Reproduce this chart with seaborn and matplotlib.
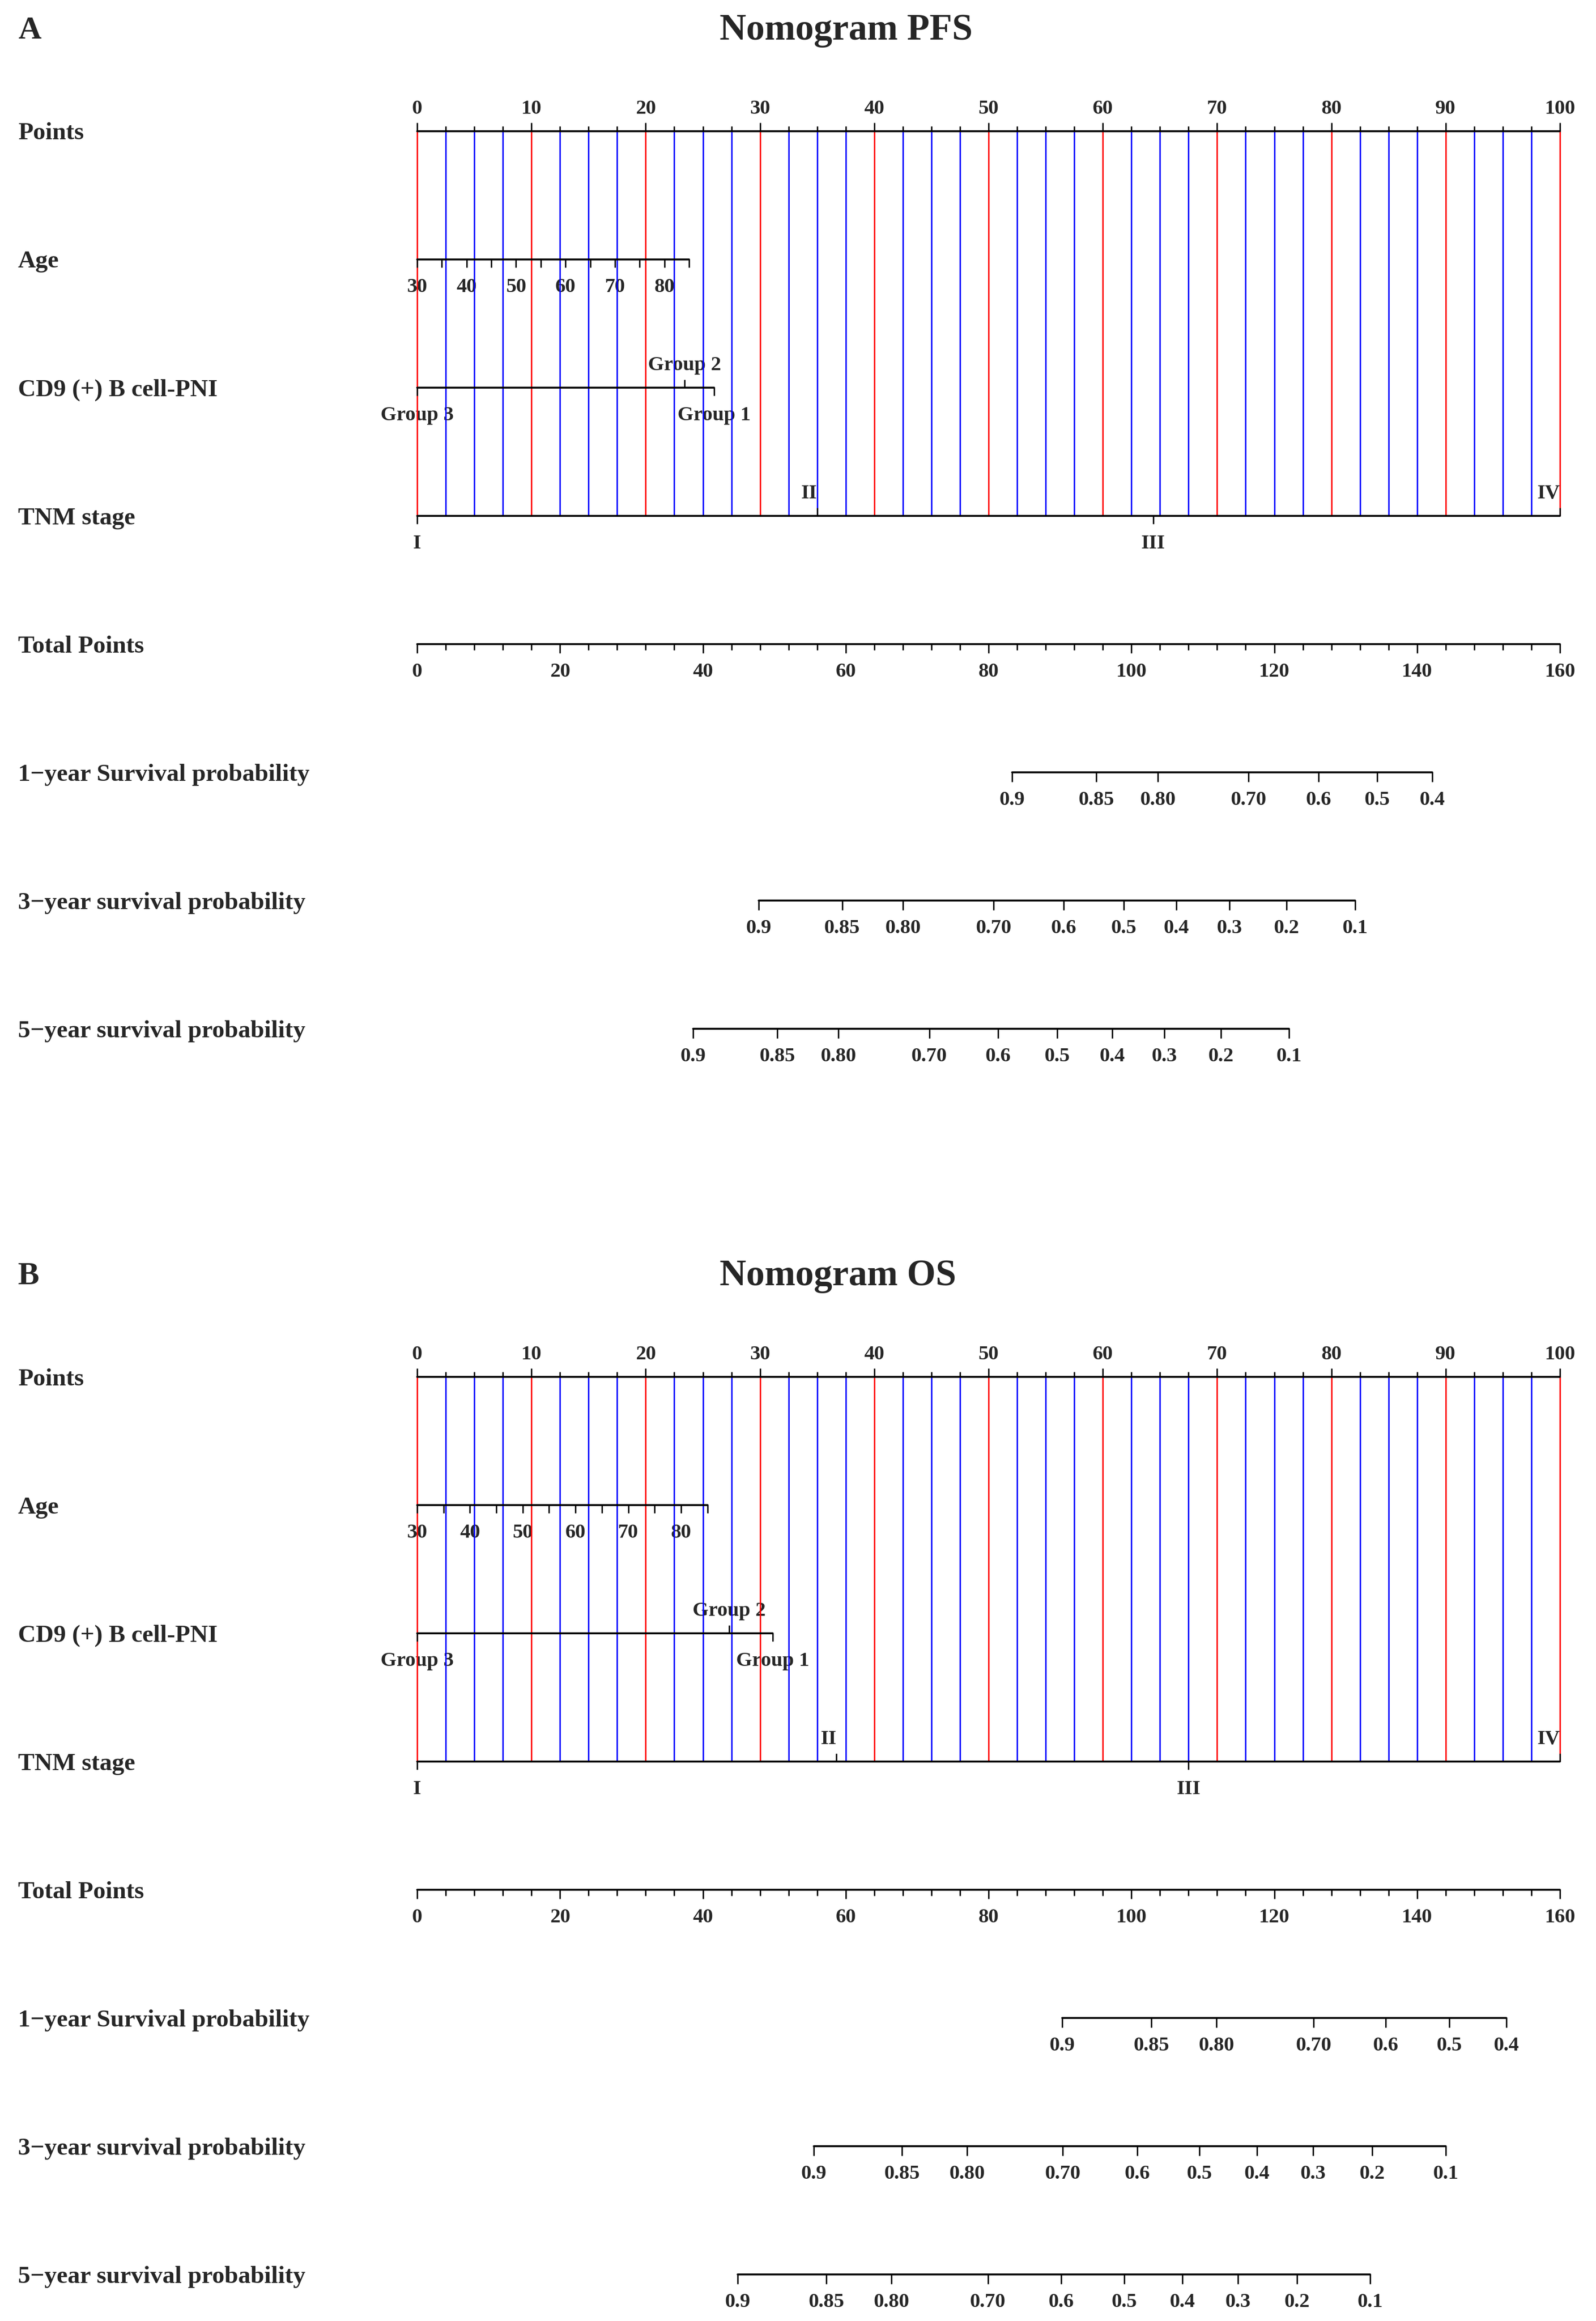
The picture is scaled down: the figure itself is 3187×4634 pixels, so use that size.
import numpy as np
import pandas as pd
import seaborn as sns
import matplotlib.pyplot as plt
import matplotlib.transforms as mtransforms

# ---- values ----
row_names = ["Points", "Age", "CD9 (+) B cell-PNI", "TNM stage", "Total Points",
             "1\u2212year Survival probability", "3\u2212year survival probability",
             "5\u2212year survival probability"]

point_labels = [0, 10, 20, 30, 40, 50, 60, 70, 80, 90, 100]
total_labels = [0, 20, 40, 60, 80, 100, 120, 140, 160]
age_ticks = [30, 35, 40, 45, 50, 55, 60, 65, 70, 75, 80, 85]
age_labels = [30, 40, 50, 60, 70, 80]

pni_groups = ["Group 3", "Group 2", "Group 1"]
pni_sides = ["below", "above", "below"]
tnm_stages = ["I", "II", "III", "IV"]
tnm_sides = ["below", "above", "below", "above"]
tnm_align = ["center", "right", "center", "right"]

surv_1y = ["0.9", "0.85", "0.80", "0.70", "0.6", "0.5", "0.4"]
surv_35y = ["0.9", "0.85", "0.80", "0.70", "0.6", "0.5", "0.4", "0.3", "0.2", "0.1"]

# PFS
pfs_age85 = 23.8                      # points given to age 85 (age 30 -> 0)
pfs_pni = [0, 23.4, 26.0]
pfs_tnm = [0, 35.0, 64.4, 100]
pfs_1y = [83.3, 95.1, 103.7, 116.4, 126.2, 134.4, 142.1]            # total points
pfs_3y = [47.8, 59.5, 68.0, 80.7, 90.5, 98.9, 106.3, 113.7, 121.7, 131.3]
pfs_5y = [38.6, 50.4, 59.0, 71.7, 81.3, 89.6, 97.3, 104.6, 112.5, 122.1]

# OS
os_age85 = 25.4
os_pni = [0, 27.3, 31.1]
os_tnm = [0, 36.7, 67.5, 100]
os_1y = [90.3, 102.8, 111.9, 125.5, 135.6, 144.5, 152.5]
os_3y = [55.5, 67.9, 77.0, 90.4, 100.8, 109.5, 117.6, 125.4, 133.7, 144.0]
os_5y = [44.9, 57.3, 66.4, 79.9, 90.2, 99.0, 107.1, 114.9, 123.2, 133.4]

# ---- layout (pixels) ----
W, H = 3187, 4634
X0, X1 = 833, 3115          # left / right end of the point scales
ROW = 256                   # distance between rows
YTOP, YBOT = -0.9, 7.3
AX_LW, TK_LW, VL_LW = 2.7, 2.0, 2.0
LAB_FS, TICK_FS = 35.5, 29.5

sns.set_theme(style="white")
plt.rcParams["font.family"] = ["Liberation Serif", "DejaVu Serif"]
plt.rcParams["font.weight"] = "bold"

fig = plt.figure(figsize=(W / 100, H / 100), dpi=100)


def scale(fig, a, row, xs, labels, sides, tick_px, align=None, line=None):
    lo, hi = line if line else (min(xs), max(xs))
    sns.lineplot(x=[lo, hi], y=[row, row], ax=a, color="black", lw=AX_LW,
                 zorder=3, clip_on=False)
    for i, (x, lab) in enumerate(zip(xs, labels)):
        side = sides[i] if isinstance(sides, list) else sides
        L = tick_px[i] if isinstance(tick_px, list) else tick_px
        d = -L / ROW if side == "above" else L / ROW
        a.plot([x, x], [row, row + d], color="black", lw=TK_LW, zorder=3,
               clip_on=False, solid_capstyle="butt")
        if lab is None:
            continue
        off = 35 if side == "above" else -65
        tr = mtransforms.offset_copy(a.transData, fig=fig, y=off, units="dots")
        ha = align[i] if align else "center"
        a.text(x, row, str(lab), transform=tr, ha=ha, va="baseline",
               fontsize=TICK_FS, fontweight="bold", zorder=1)


def nomogram(fig, row0_px, letter, title, age85, pni, tnm, s1, s3, s5):
    top = row0_px + YTOP * ROW
    bot = row0_px + YBOT * ROW
    ax = fig.add_axes([X0 / W, 1 - bot / H, (X1 - X0) / W, (bot - top) / H])
    ax.set_xlim(0, 100)
    ax.set_ylim(YBOT, YTOP)
    ax.axis("off")
    tx = ax.twiny()
    tx.set_xlim(0, 160)
    tx.set_ylim(YBOT, YTOP)
    tx.axis("off")

    # reference lines every 2.5 points, red on the tens
    grid = np.arange(0, 100.01, 2.5)
    cols = ["red" if g % 10 == 0 else "blue" for g in grid]
    ax.vlines(grid, 0, 3, colors=cols, lw=VL_LW, zorder=2, clip_on=False)

    # Points
    minor = np.arange(0, 100.01, 2.5)
    scale(fig, ax, 0, list(minor), [int(m) if m % 10 == 0 else None for m in minor],
          "above", [17 if m % 10 == 0 else 10 for m in minor])
    # Age
    age_x = [(a - 30) / 55 * age85 for a in age_ticks]
    scale(fig, ax, 1, age_x, [a if a in age_labels else None for a in age_ticks],
          "below", 16)
    # CD9 (+) B cell-PNI
    scale(fig, ax, 2, pni, pni_groups, pni_sides, 16)
    # TNM stage
    scale(fig, ax, 3, tnm, tnm_stages, tnm_sides, 16, align=tnm_align)
    # Total points
    tminor = np.arange(0, 160.01, 4)
    scale(fig, tx, 4, list(tminor), [int(t) if t % 20 == 0 else None for t in tminor],
          "below", [18 if t % 20 == 0 else 12 for t in tminor])
    # survival probabilities
    scale(fig, tx, 5, s1, surv_1y, "below", 19)
    scale(fig, tx, 6, s3, surv_35y, "below", 19)
    scale(fig, tx, 7, s5, surv_35y, "below", 19)

    # row names at the left edge of the figure
    bl = mtransforms.blended_transform_factory(fig.transFigure, ax.transData)
    bl = mtransforms.offset_copy(bl, fig=fig, y=-16.5, units="dots")
    for k, name in enumerate(row_names):
        ax.text(36 / W, k, name, transform=bl, ha="left", va="baseline",
                fontsize=LAB_FS, fontweight="bold")

    base = row0_px - 185
    fig.text(36 / W, 1 - base / H, letter, ha="left", va="baseline",
             fontsize=46, fontweight="bold")
    fig.text(1437 / W, 1 - (base + 2) / H, title, ha="left", va="baseline",
             fontsize=53, fontweight="bold")


nomogram(fig, 262, "A", "Nomogram PFS", pfs_age85, pfs_pni, pfs_tnm, pfs_1y, pfs_3y, pfs_5y)
nomogram(fig, 2749, "B", "Nomogram OS", os_age85, os_pni, os_tnm, os_1y, os_3y, os_5y)

fig.savefig("out.png", dpi=100, facecolor="white")
